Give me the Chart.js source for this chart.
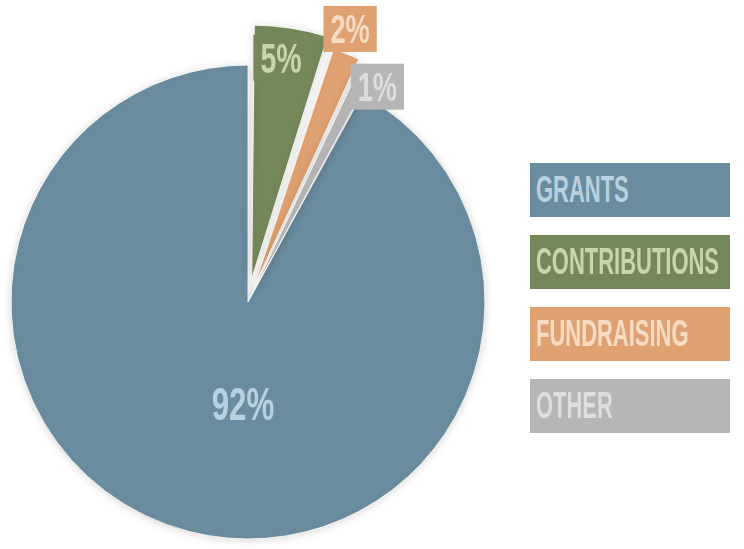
<!DOCTYPE html>
<html>
<head>
<meta charset="utf-8">
<script src="https://cdn.jsdelivr.net/npm/chart.js@4.4.1/dist/chart.umd.min.js"></script>
<style>
    html, body { margin: 0; padding: 0; background: #ffffff; }
    #wrap { position: relative; width: 744px; height: 549px; overflow: hidden; }
    #revenueChart { position: absolute; left: 0; top: 0; }
    #legend { position: absolute; left: 530px; top: 163px; width: 200px; }
    .legend-node { height: 54px; margin-bottom: 18px; padding-left: 6px; box-sizing: border-box; overflow: hidden; }
    .legend-node span {
        display: inline-block; font-family: "Liberation Sans", Arial, sans-serif; font-weight: bold;
        font-size: 36px; line-height: 54px; transform: scaleX(0.61); transform-origin: left center; white-space: nowrap;
    }
</style>
</head>
<body>
<div id="wrap">
    <canvas id="revenueChart" width="744" height="549"></canvas>
    <div id="legend"></div>
</div>
<script>
const CATEGORIES = ['GRANTS', 'CONTRIBUTIONS', 'FUNDRAISING', 'OTHER'];
const SHARES = [92, 5, 2, 1];
const SLICE_COLORS = ['#6b8c9f', '#74885a', '#dfa171', '#b6b6b6'];
const TEXT_COLORS = ['#b9d1de', '#c7d7a9', '#f7dcc3', '#dedede'];
// Chart.js moves an arc by roughly offset/4 * (1 + fix), so these give ~40, 30 and 12 px
const SLICE_OFFSETS = [0, 95, 64, 25];

// label placement around each slice: angle shift (deg) from mid-angle, radius factor, font size
const LABEL_SHIFT = [-11.6, -1.3, -1.1, 4];
const LABEL_RADIUS = [0.43, 1.04, 1.23, 1.06];
const LABEL_SIZE = [46, 42, 40, 40];

const FONT = '"Liberation Sans", Arial, sans-serif';

// grants slice ends exactly at the top, the small slices follow clockwise
const total = SHARES.reduce((a, b) => a + b, 0);
const startRotation = 360 * (total - SHARES[0]) / total;

const shadowPlugin = {
    id: 'pieShadow',
    beforeDatasetsDraw(chart) {
        const ctx = chart.ctx;
        ctx.save();
        ctx.shadowColor = 'rgba(0, 0, 0, 0.16)';
        ctx.shadowBlur = 10;
        ctx.shadowOffsetX = 0;
        ctx.shadowOffsetY = 1;
    },
    afterDatasetsDraw(chart) {
        chart.ctx.restore();
    }
};

const sliceLabelPlugin = {
    id: 'sliceLabels',
    afterDatasetsDraw(chart) {
        const ctx = chart.ctx;
        const meta = chart.getDatasetMeta(0);
        meta.data.forEach((arc, i) => {
            const p = arc.getProps(['x', 'y', 'startAngle', 'endAngle', 'outerRadius'], true);
            const mid = (p.startAngle + p.endAngle) / 2 + LABEL_SHIFT[i] * Math.PI / 180;
            const r = p.outerRadius * LABEL_RADIUS[i];
            const cx = p.x + Math.cos(mid) * r;
            const cy = p.y + Math.sin(mid) * r;
            const text = SHARES[i] + '%';
            const size = LABEL_SIZE[i];
            const squeeze = 0.68;

            ctx.save();
            ctx.font = 'bold ' + size + 'px ' + FONT;
            const w = ctx.measureText(text).width * squeeze;
            if (i > 0) {
                ctx.fillStyle = SLICE_COLORS[i];
                ctx.fillRect(cx - w / 2 - 7, cy - 23, w + 14, 46);
            }
            ctx.translate(cx, cy + size * 0.716 / 2);
            ctx.scale(squeeze, 1);
            ctx.fillStyle = TEXT_COLORS[i];
            ctx.textAlign = 'center';
            ctx.textBaseline = 'alphabetic';
            ctx.fillText(text, 0, 0);
            ctx.restore();
        });
    }
};

function renderLegend() {
    const target = document.getElementById('legend');
    target.innerHTML = CATEGORIES.map((name, i) =>
        `<div class="legend-node" style="background:${SLICE_COLORS[i]}"><span style="color:${TEXT_COLORS[i]}">${name}</span></div>`
    ).join('');
}

new Chart(document.getElementById('revenueChart').getContext('2d'), {
    type: 'pie',
    data: {
        labels: CATEGORIES,
        datasets: [{
            data: SHARES,
            backgroundColor: SLICE_COLORS,
            borderColor: 'rgba(255,255,255,0.85)',
            borderWidth: 1,
            offset: SLICE_OFFSETS,
            hoverOffset: 0
        }]
    },
    options: {
        responsive: false,
        animation: false,
        rotation: startRotation,
        radius: 237,
        clip: false,
        layout: { padding: { left: 0, right: 248, top: 55, bottom: 0 } },
        plugins: { legend: { display: false }, tooltip: { enabled: false } }
    },
    plugins: [shadowPlugin, sliceLabelPlugin]
});

renderLegend();
</script>
</body>
</html>
